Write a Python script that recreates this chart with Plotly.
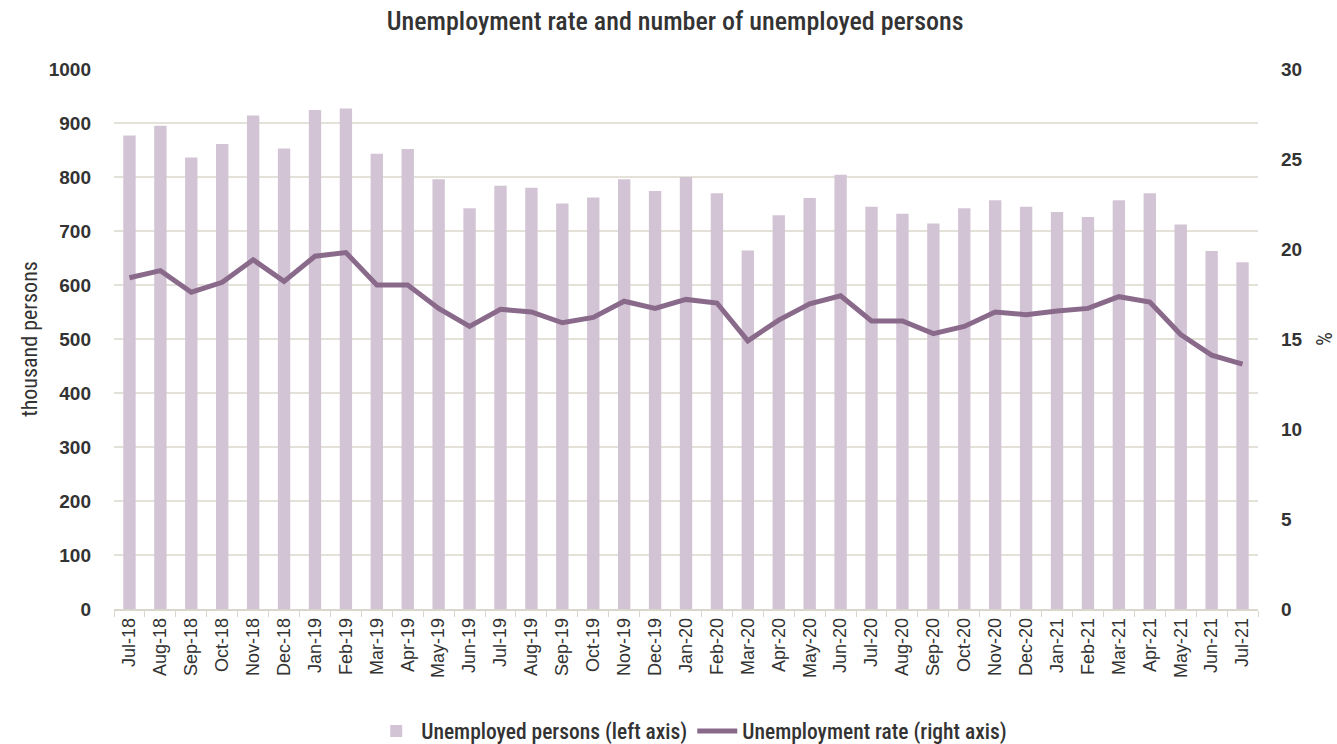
import plotly.graph_objects as go

months = ["Jul-18", "Aug-18", "Sep-18", "Oct-18", "Nov-18", "Dec-18",
          "Jan-19", "Feb-19", "Mar-19", "Apr-19", "May-19", "Jun-19",
          "Jul-19", "Aug-19", "Sep-19", "Oct-19", "Nov-19", "Dec-19",
          "Jan-20", "Feb-20", "Mar-20", "Apr-20", "May-20", "Jun-20",
          "Jul-20", "Aug-20", "Sep-20", "Oct-20", "Nov-20", "Dec-20",
          "Jan-21", "Feb-21", "Mar-21", "Apr-21", "May-21", "Jun-21",
          "Jul-21"]

# thousand persons
unemployed = [877, 895, 836, 861, 914, 853,
              924, 927, 843, 852, 796, 742,
              784, 780, 751, 762, 796, 774,
              800, 770, 664, 729, 761, 804,
              745, 732, 714, 742, 757, 745,
              735, 726, 757, 770, 712, 663,
              642]

# percent
rate = [18.4, 18.8, 17.6, 18.15, 19.4, 18.2,
        19.6, 19.8, 18.0, 18.0, 16.7, 15.7,
        16.65, 16.5, 15.9, 16.2, 17.1, 16.7,
        17.2, 17.0, 14.9, 16.05, 16.95, 17.4,
        16.0, 16.0, 15.3, 15.7, 16.5, 16.35,
        16.55, 16.7, 17.35, 17.05, 15.25, 14.1,
        13.6]

narrow = "Roboto Condensed, Roboto, sans-serif"
regular = "Liberation Sans, Arial, sans-serif"
text_col = "#333333"
grid_col = "#e4e2d8"

fig = go.Figure()
fig.add_trace(go.Bar(
    x=months, y=unemployed, name="Unemployed persons (left axis)",
    marker=dict(color="#d3c4d5", line=dict(width=0)),
    yaxis="y",
))
fig.add_trace(go.Scatter(
    x=months, y=rate, name="Unemployment rate (right axis)",
    mode="lines", line=dict(color="#8a6a8b", width=5),
    yaxis="y2",
))

fig.update_layout(
    width=1337, height=744,
    margin=dict(l=114, r=79, t=69, b=135, autoexpand=False),
    paper_bgcolor="white", plot_bgcolor="white",
    bargap=0.6,
    showlegend=True,
    title=dict(text="Unemployment rate and number of unemployed persons",
               x=0.505, xanchor="center", y=0.972, yanchor="middle",
               font=dict(family=narrow, size=26, color=text_col, weight=500)),
    legend=dict(orientation="h", x=0.505, xanchor="center", y=-0.226,
                yanchor="middle",
                font=dict(family=narrow, size=21.5, color=text_col, weight=500),
                itemwidth=40, traceorder="normal"),
    xaxis=dict(
        type="category", tickangle=-90,
        tickfont=dict(family=regular, size=18, color=text_col),
        showline=True, linecolor="#d9d7cc", linewidth=1.5,
        ticks="outside", tickson="boundaries", ticklen=6,
        tickcolor="#d9d7cc", showgrid=False,
    ),
    yaxis=dict(
        range=[0, 1000], dtick=100, automargin=False,
        tickfont=dict(family=regular, size=19, color=text_col, weight="bold"),
        title=dict(text="thousand persons", standoff=5,
                   font=dict(family=narrow, size=22, color=text_col)),
        showgrid=True, gridcolor=grid_col, gridwidth=1.5,
        zeroline=False, ticks="", ticklabelstandoff=22,
    ),
    yaxis2=dict(
        range=[0, 30], dtick=5, overlaying="y", side="right", automargin=False,
        tickfont=dict(family=regular, size=19, color=text_col, weight="bold"),
        title=dict(text="%", standoff=16,
                   font=dict(family=narrow, size=22, color=text_col)),
        showgrid=False, zeroline=False, ticks="", ticklabelstandoff=22,
    ),
)

fig.write_html("out.html")
